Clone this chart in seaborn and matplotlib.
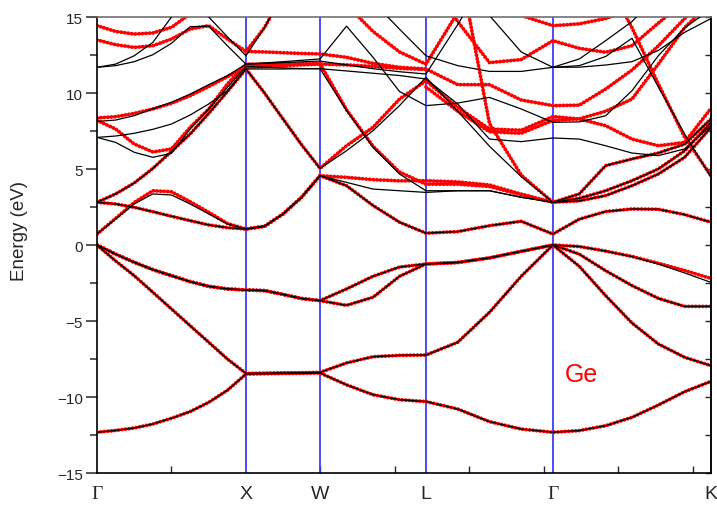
import numpy as np
import pandas as pd
import matplotlib
matplotlib.use("Agg")
import matplotlib.pyplot as plt
from matplotlib.ticker import MultipleLocator
import seaborn as sns

N = np.nan

# ---------------- path / labels ----------------
kpath_nodes = [0.0, 1.0, 1.497, 2.208, 3.060, 4.121]
kpath_labels = ["Γ", "X", "W", "L", "Γ", "K"]
samples_per_segment = [8, 4, 4, 4, 6]

# band energies (eV) read at the sample points:
# Γ-X (9) | X-W (4) | W-L (4) | L-Γ (4) | Γ-K (6)
VB1 = [-12.32, -12.20, -12.04, -11.78, -11.40, -10.96, -10.35, -9.56, -8.49,
       -8.47, -8.45, -8.44, -8.42,
       -9.20, -9.85, -10.18, -10.30,
       -10.79, -11.62, -12.11, -12.32,
       -12.21, -11.89, -11.34, -10.53, -9.65, -8.97]
VB2 = [0.00, -1.05, -2.02, -3.11, -4.21, -5.31, -6.40, -7.50, -8.45,
       -8.43, -8.41, -8.40, -8.38,
       -7.76, -7.35, -7.26, -7.24,
       -6.40, -4.43, -2.06, 0.00,
       -1.40, -3.33, -5.13, -6.51, -7.39, -7.94]
VB3 = [0.00, -0.60, -1.14, -1.62, -2.02, -2.41, -2.72, -2.89, -2.96,
       -3.00, -3.25, -3.52, -3.66,
       -2.89, -2.06, -1.45, -1.25,
       -1.15, -0.85, -0.42, 0.00,
       -0.60, -1.69, -2.67, -3.51, -4.04, -4.04]

# black (reference calculation)
VB4_b = [0.00, -0.60, -1.14, -1.62, -2.02, -2.41, -2.72, -2.89, -2.96,
         -3.00, -3.25, -3.52, -3.66,
         -3.97, -3.44, -2.06, -1.25,
         -1.15, -0.85, -0.42, 0.00,
         -0.10, -0.40, -0.77, -1.25, -1.84, -2.46]
CB1_b = [0.72, 1.71, 2.70, 3.36, 3.29, 2.70, 2.04, 1.38, 1.05,
         1.23, 2.04, 3.14, 4.56,
         3.90, 2.60, 1.50, 0.78,
         0.88, 1.27, 1.56, 0.72,
         1.70, 2.20, 2.37, 2.35, 2.00, 1.50]
CB2_b = [2.81, 2.70, 2.48, 2.19, 1.89, 1.60, 1.32, 1.14, 1.05,
         1.23, 2.04, 3.14, 4.56,
         4.12, 3.68, 3.57, 3.46,
         3.57, 3.57, 3.14, 2.81,
         2.90, 3.25, 3.90, 4.67, 5.77, 7.74]
CB3_b = [2.81, 3.36, 4.08, 5.04, 6.16, 7.30, 8.66, 10.09, 11.58,
         10.00, 8.29, 6.60, 5.04,
         6.20, 7.52, 9.17, 11.03,
         8.80, 6.50, 4.50, 2.81,
         3.36, 5.22, 5.66, 6.05, 6.64, 8.29]
CB4_b = [7.08, 6.75, 6.10, 5.77, 6.03, 7.63, 8.95, 10.37, 11.75,
         11.70, 11.65, 11.60, 11.60,
         8.84, 6.43, 4.67, 3.57,
         3.57, 3.57, 3.14, 2.81,
         3.07, 3.57, 4.23, 5.00, 6.20, 8.07]
CB5_b = [7.08, 7.17, 7.35, 7.61, 7.96, 8.55, 9.28, 10.15, 11.58,
         11.58, 11.58, 11.60, 11.60,
         11.45, 11.30, 11.15, 10.92,
         9.28, 6.97, 6.80, 7.04,
         6.97, 6.53, 6.05, 5.88, 6.32, 7.85]
CB6_b = [11.69, 11.80, 12.06, 12.52, 13.27, 14.36, 14.40, 13.11, 11.90,
         11.98, 12.06, 12.15, 12.24,
         14.40, 12.35, 10.10, 9.17,
         9.34, 9.71, 8.95, 8.07,
         8.10, 8.50, 10.15, 12.45, 14.30, 15.50]
CB7_b = [11.69, 11.90, 12.45, 13.33, 15.00, 16.00, 15.00, 13.70, 12.45,
         14.30, 16.50, 18.00, 19.00,
         18.00, 16.00, 14.20, 12.45,
         11.80, 11.42, 11.42, 11.69,
         11.70, 11.84, 12.06, 12.80, 13.99, 14.90]
CB8_b = [8.13, 8.22, 8.51, 8.95, 9.39, 9.93, 10.55, 11.14, 11.90,
         11.95, 12.00, 12.05, 12.10,
         11.85, 11.60, 11.40, 11.25,
         14.50, 18.00, N, N,
         N, N, N, N, N, N]
CB9_b = [N, N, N, N, N, N, N, N, N,
         N, N, N, N,
         N, N, N, N,
         19.00, 15.10, 12.70, 11.69,
         12.24, 13.44, 14.70, 16.50, N, N]
CB10_b = [N, N, N, N, N, N, N, N, N,
          N, N, N, N,
          N, N, N, N,
          N, N, N, 11.69,
          11.80, 12.40, 13.60, 10.40, 7.30, 4.45]

# red (second calculation)
VB4_r = [0.00, -0.60, -1.14, -1.62, -2.02, -2.41, -2.72, -2.89, -2.96,
         -3.00, -3.25, -3.52, -3.66,
         -3.97, -3.44, -2.06, -1.25,
         -1.15, -0.85, -0.42, 0.00,
         -0.10, -0.40, -0.75, -1.20, -1.68, -2.20]
CB1_r = [0.72, 1.75, 2.80, 3.57, 3.50, 2.85, 2.15, 1.42, 1.05,
         1.23, 2.04, 3.14, 4.56,
         3.90, 2.60, 1.50, 0.78,
         0.88, 1.27, 1.56, 0.72,
         1.70, 2.20, 2.37, 2.35, 2.00, 1.50]
CB2_r = [2.81, 2.70, 2.48, 2.19, 1.89, 1.60, 1.32, 1.14, 1.05,
         1.23, 2.04, 3.14, 4.56,
         4.45, 4.30, 4.22, 4.23,
         4.15, 3.95, 3.35, 2.81,
         2.90, 3.25, 3.90, 4.67, 5.77, 7.74]
CB3_r = [2.81, 3.36, 4.08, 5.04, 6.16, 7.30, 8.66, 10.09, 11.58,
         10.00, 8.29, 6.60, 5.04,
         6.53, 7.74, 9.60, 10.80,
         9.06, 7.63, 7.55, 8.45,
         8.29, 7.85, 6.97, 6.53, 6.75, 8.99]
CB4_r = [8.20, 7.63, 6.64, 6.12, 6.32, 7.74, 8.95, 10.59, 11.90,
         11.90, 11.90, 11.92, 11.93,
         8.90, 6.50, 4.80, 4.00,
         4.00, 3.85, 3.30, 2.81,
         3.07, 3.57, 4.23, 5.00, 6.20, 8.07]
CB5_r = [8.36, 8.44, 8.66, 8.95, 9.32, 9.82, 10.42, 11.07, 11.69,
         11.75, 11.80, 11.85, 11.90,
         11.85, 11.75, 11.62, 11.55,
         N, N, N, N,
         N, N, N, N, N, N]
CB6_r = [13.49, 13.18, 13.00, 13.11, 13.55, 14.21, 14.43, 13.55, 12.74,
         12.70, 12.65, 12.60, 12.57,
         12.35, 11.95, 11.69, 11.58,
         10.55, 10.55, 9.54, 9.17,
         9.20, 10.26, 11.51, 13.10, 14.90, 16.50]
CB7_r = [14.43, 14.05, 13.88, 13.95, 14.32, 15.20, N, N, N,
         N, N, N, N,
         N, N, N, N,
         N, N, N, N,
         N, N, N, N, N, N]
CB8_r = [N, N, N, N, N, N, N, N, 12.74,
         14.30, 16.50, N, N,
         N, N, N, N,
         N, N, N, N,
         N, N, N, N, N, N]
CB9_r = [N, N, N, N, N, N, N, N, N,
         N, N, N, N,
         15.80, 14.05, 12.70, 11.90,
         15.30, 18.00, N, N,
         N, N, N, N, N, N]
CB10_r = [N, N, N, N, N, N, N, N, N,
          N, N, N, N,
          N, N, N, N,
          N, 16.00, 15.10, 14.43,
          14.55, 14.90, 15.50, N, N, N]
CB11_r = [N, N, N, N, N, N, N, N, N,
          N, N, N, N,
          N, N, N, 18.00,
          14.70, 12.00, 12.20, 13.44,
          12.94, 12.68, 13.11, 14.60, 16.00, N]
CB12_r = [N, N, N, N, N, N, N, N, N,
          N, N, N, N,
          N, N, N, 10.40,
          8.80, 7.45, 7.35, 8.20,
          8.30, 8.80, 9.60, 11.90, 14.30, 16.00]
CB13_r = [N, N, N, N, N, N, N, N, N,
          N, N, N, N,
          N, N, N, N,
          N, N, N, N,
          N, 17.50, 14.30, 10.60, 7.10, 4.56]
CB14_r = [N, N, N, N, N, N, N, N, N,
          N, N, N, N,
          N, N, N, N,
          19.00, 8.00, 4.60, 2.81,
          3.36, 5.22, 5.66, 6.05, 6.64, 8.29]

black_bands = {"VB1": VB1, "VB2": VB2, "VB3": VB3, "VB4": VB4_b,
               "CB1": CB1_b, "CB2": CB2_b, "CB3": CB3_b, "CB4": CB4_b,
               "CB5": CB5_b, "CB6": CB6_b, "CB7": CB7_b, "CB8": CB8_b,
               "CB9": CB9_b, "CB10": CB10_b}
red_bands = {"VB1": VB1, "VB2": VB2, "VB3": VB3, "VB4": VB4_r,
             "CB1": CB1_r, "CB2": CB2_r, "CB3": CB3_r, "CB4": CB4_r,
             "CB5": CB5_r, "CB6": CB6_r, "CB7": CB7_r, "CB8": CB8_r,
             "CB9": CB9_r, "CB10": CB10_r, "CB11": CB11_r, "CB12": CB12_r,
             "CB13": CB13_r, "CB14": CB14_r}

# ---------------- k grid ----------------
kparts = []
for i, n in enumerate(samples_per_segment):
    seg = np.linspace(kpath_nodes[i], kpath_nodes[i + 1], n + 1)
    kparts.append(seg if i == 0 else seg[1:])
K = np.concatenate(kparts)


def to_long(bands):
    rows = []
    for name, vals in bands.items():
        vals = np.asarray(vals, float)
        piece, gap = 0, True
        for kk, e in zip(K, vals):
            if np.isnan(e):
                gap = True
                continue
            if gap:
                piece += 1
                gap = False
            rows.append((kk, e, f"{name}-{piece}"))
    return pd.DataFrame(rows, columns=["k", "E", "piece"])


df_red = to_long(red_bands)
df_black = to_long(black_bands)

# ---------------- figure ----------------
sns.set_style("ticks")
plt.rcParams["font.family"] = ["Liberation Sans", "DejaVu Sans"]

fig = plt.figure(figsize=(7.17, 5.06), dpi=100)
ax = fig.add_axes([97 / 717, 32 / 506, 614 / 717, 456 / 506])

for kx in kpath_nodes[1:-1]:
    ax.axvline(kx, color="#3c3cff", lw=1.3, zorder=1)

sns.lineplot(data=df_red, x="k", y="E", units="piece", estimator=None,
             sort=False, color="#ff0000", lw=2.7, linestyle=(0, (0.1, 0.85)),
             dash_capstyle="round", legend=False, ax=ax, zorder=2)
sns.lineplot(data=df_black, x="k", y="E", units="piece", estimator=None,
             sort=False, color="black", lw=0.9, legend=False, ax=ax, zorder=3)

ax.set_xlim(kpath_nodes[0], kpath_nodes[-1])
ax.set_ylim(-15, 15)

# y axis
ax.set_yticks(np.arange(-15, 16, 5))
ax.yaxis.set_minor_locator(MultipleLocator(2.5))
ax.tick_params(axis="y", which="major", direction="out", length=8, width=1.1,
               labelsize=11, pad=2, right=False)
ax.tick_params(axis="y", which="minor", direction="out", length=5, width=1.1,
               right=False)
ax.set_ylabel("Energy (eV)", fontsize=13.5)
ax.yaxis.set_label_coords(-0.112, 0.533)

sec = ax.secondary_yaxis("right")
sec.set_yticks(np.arange(-15, 15.1, 2.5))
sec.tick_params(direction="in", length=4, width=1.0, labelright=False)
sec.spines["right"].set_linewidth(1.1)

# x axis
ax.set_xticks(kpath_nodes)
ax.set_xticklabels(kpath_labels)
ax.xaxis.set_minor_locator(MultipleLocator(0.5))
ax.tick_params(axis="x", which="major", length=0, labelsize=14, pad=9)
ax.tick_params(axis="x", which="minor", direction="in", length=5, width=1.0)
for lbl in ax.get_xticklabels():
    if lbl.get_text() == "Γ":
        lbl.set_fontfamily(["Liberation Serif", "DejaVu Serif"])
ax.set_xlabel("")

for side in ["left", "bottom", "right"]:
    ax.spines[side].set_linewidth(1.2)
    ax.spines[side].set_color("black")
ax.spines["top"].set_color("#707070")
ax.spines["top"].set_linewidth(1.2)

ax.text(3.141, -8.95, "Ge", color="#ff0000", fontsize=18,
        ha="left", va="baseline")

fig.savefig("out.png", dpi=100)
